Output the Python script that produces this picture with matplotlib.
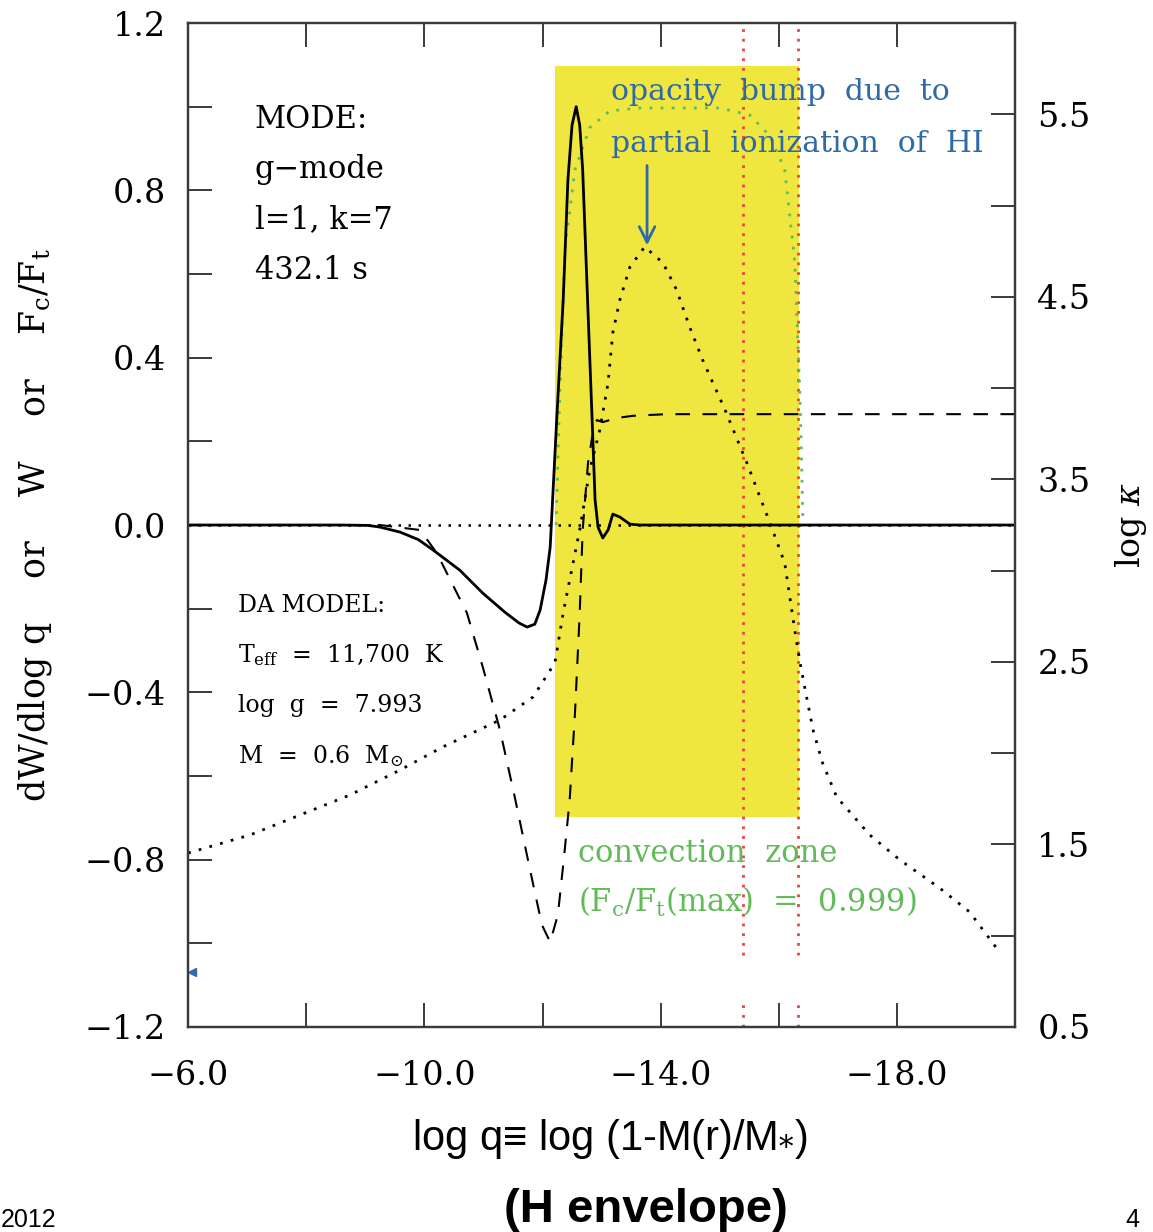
import matplotlib.pyplot as plt
from matplotlib.patches import Rectangle

plt.rcParams['font.family'] = ['DejaVu Serif']
plt.rcParams['mathtext.fontset'] = 'dejavuserif'

# Work integrand dW/dlog q (solid)
dw_x = [-6.0, -8.57, -9.05, -9.25, -9.59, -9.90, -10.15, -10.60, -10.99, -11.36,
        -11.60, -11.74, -11.87, -11.96, -12.06, -12.13, -12.24, -12.35, -12.43,
        -12.50, -12.57, -12.63, -12.68, -12.75, -12.84, -12.89, -12.94, -13.02,
        -13.11, -13.19, -13.31, -13.48, -13.65, -20.0]
dw_y = [0.0, 0.0, -0.001, -0.005, -0.017, -0.035, -0.06, -0.108, -0.163, -0.208,
        -0.234, -0.244, -0.237, -0.203, -0.131, -0.053, 0.251, 0.538, 0.825,
        0.956, 1.0, 0.956, 0.849, 0.586, 0.251, 0.06, -0.005, -0.031,
        -0.012, 0.026, 0.019, 0.002, 0.0, 0.0]

# Running work integral W (dashed)
w_x = [-6.0, -9.25, -9.93, -10.21, -10.72, -10.99, -11.28, -11.53, -11.79, -11.99,
       -12.13, -12.26, -12.36, -12.46, -12.55, -12.63, -12.68, -12.77, -12.84,
       -12.92, -13.02, -13.26, -13.53, -14.10, -20.0]
w_y = [0.0, 0.0, -0.012, -0.067, -0.21, -0.34, -0.49, -0.65, -0.825, -0.956,
       -0.997, -0.932, -0.80, -0.657, -0.449, -0.21, -0.012, 0.148, 0.21,
       0.251, 0.246, 0.256, 0.261, 0.265, 0.265]

# Convective flux fraction Fc/Ft (green dotted)
fc_x = [-12.23, -12.29, -12.38, -12.55, -12.80, -13.14, -13.65, -15.0, -15.51,
        -15.85, -16.10, -16.27, -16.36, -16.41]
fc_y = [0.0, 0.30, 0.66, 0.85, 0.95, 0.99, 0.997, 0.997, 0.98,
        0.93, 0.85, 0.63, 0.30, 0.0]

# Rosseland opacity log kappa (black dotted, right axis)
kap_x = [-6.0, -7.05, -7.90, -8.74, -9.59, -10.31, -11.28, -11.84, -12.21, -12.35,
         -12.46, -12.63, -12.80, -12.97, -13.11, -13.19, -13.31, -13.48, -13.73,
         -14.04, -14.27, -14.49, -14.71, -15.09, -15.46, -15.68, -15.85, -16.10,
         -16.27, -16.36, -16.47, -16.58, -16.74, -16.98, -17.54, -18.05, -18.72,
         -19.23, -19.71]
kap_y = [1.453, 1.552, 1.662, 1.771, 1.908, 2.034, 2.182, 2.308, 2.495, 2.768,
         2.949, 3.223, 3.552, 3.771, 4.029, 4.303, 4.484, 4.664, 4.774,
         4.686, 4.538, 4.336, 4.155, 3.881, 3.590, 3.404, 3.262, 3.042,
         2.675, 2.495, 2.308, 2.127, 1.947, 1.760, 1.552, 1.415, 1.262,
         1.130, 0.922]

# Convection zone region and its boundaries
cz_x = (-12.21, -16.35)
cz_y = (-0.698, 1.097)
bound_x = [-15.40, -16.33]

x_major = [-6.0, -10.0, -14.0, -18.0]
x_minor = [-8.0, -12.0, -16.0, -20.0]
y_major = [-1.2, -0.8, -0.4, 0.0, 0.4, 0.8, 1.2]
y_minor = [-1.0, -0.6, -0.2, 0.2, 0.6, 1.0]
k_major = [0.5, 1.5, 2.5, 3.5, 4.5, 5.5]
k_minor = [1.0, 2.0, 3.0, 4.0, 5.0]


def fmt(v):
    return f'{v:.1f}'.replace('-', '\u2212')


yellow = '#efe740'
blue = '#2e6aa8'
green = '#62bb58'
red = '#e8453c'
spine_col = '#3a3a3a'

fig = plt.figure(figsize=(11.53, 12.32), dpi=100)
ax = fig.add_axes([0.1631, 0.1664, 0.7173, 0.8149])
ax.set_xlim(-6, -20)
ax.set_ylim(-1.2, 1.2)

ax.add_patch(Rectangle((cz_x[0], cz_y[0]), cz_x[1] - cz_x[0], cz_y[1] - cz_y[0],
                       facecolor=yellow, edgecolor='none', zorder=0.5))

for bx in bound_x:
    ax.vlines(bx, -1.028, 1.2, colors=red, linestyles=(0, (1, 2.5)), lw=2, zorder=1)
    ax.vlines(bx, -1.2, -1.136, colors=red, linestyles=(0, (1, 2.5)), lw=2, zorder=1)

ax.axhline(0, color='black', ls=(0, (1, 3)), lw=1.8, zorder=1.5)
ax.plot(fc_x, fc_y, color=green, ls=(0, (1, 3)), lw=2, zorder=1.6)
ax.plot(w_x, w_y, color='black', ls=(0, (7, 6)), lw=1.5, zorder=2)
ax.plot(dw_x, dw_y, color='black', lw=2, zorder=3, solid_joinstyle='round')

# leftover marker near the left spine
ax.plot([-6.06], [-1.069], marker='<', color=blue, ms=6, clip_on=False)

ax.set_xticks(x_major, labels=[fmt(v) for v in x_major])
ax.set_xticks(x_minor, minor=True)
ax.set_yticks(y_major, labels=[fmt(v) for v in y_major])
ax.set_yticks(y_minor, minor=True)
ax.tick_params(which='both', direction='in', length=17, width=1.4, color=spine_col,
               top=True, right=False, labelsize=24)
ax.tick_params(axis='x', pad=24)
ax.tick_params(axis='y', pad=16)
for s in ax.spines.values():
    s.set_color(spine_col)
    s.set_linewidth(1.6)

ax.set_ylabel(r'dW/dlog q    or    W    or    F$_{\rm c}$/F$_{\rm t}$',
              fontsize=25, labelpad=22)

ax2 = ax.twinx()
ax2.set_ylim(0.5, 6.0)
ax2.plot(kap_x, kap_y, color='black', ls=(0, (1, 3)), lw=2, zorder=2)
ax2.set_yticks(k_major, labels=[fmt(v) for v in k_major])
ax2.set_yticks(k_minor, minor=True)
ax2.tick_params(which='both', direction='in', length=17, width=1.4, color=spine_col,
                labelsize=24, pad=16)
for s in ax2.spines.values():
    s.set_color(spine_col)
    s.set_linewidth(1.6)
ax2.set_ylabel(r'log $\kappa$', fontsize=24, rotation=90, labelpad=16)

# mode and model annotations
for i, line in enumerate(['MODE:', 'g\u2212mode', 'l=1, k=7', '432.1 s']):
    ax.text(-7.13, 0.949 - 0.12 * i, line, fontsize=22, va='baseline', ha='left')

da_lines = ['DA MODEL:', r'T$_{\rm eff}$  =  11,700  K', 'log  g  =  7.993',
            r'M  =  0.6  M$_{\odot}$']
for i, line in enumerate(da_lines):
    ax.text(-6.85, -0.208 - 0.12 * i, line, fontsize=17, va='baseline', ha='left')

ax.text(-13.16, 1.016, 'opacity  bump  due  to', fontsize=21.5, color=blue,
        va='baseline', ha='left', zorder=4)
ax.text(-13.16, 0.892, 'partial  ionization  of  HI', fontsize=21.5, color=blue,
        va='baseline', ha='left', zorder=4)
ax.annotate('', xy=(-13.77, 0.662), xytext=(-13.77, 0.866),
            arrowprops=dict(arrowstyle='->', color=blue, lw=2, mutation_scale=28))

ax.text(-12.60, -0.806, 'convection  zone', fontsize=22, color=green,
        va='baseline', ha='left')
ax.text(-12.60, -0.925, r'(F$_{\rm c}$/F$_{\rm t}$(max)  =  0.999)', fontsize=22,
        color=green, va='baseline', ha='left')

sans = ['Liberation Sans', 'DejaVu Sans']
fig.text(0.529, 1 - 1150 / 1232, r'log q≡ log (1-M(r)/M$_{*}$)', fontsize=30,
         family=sans, ha='center', va='baseline')
fig.text(0.560, 1 - 1222 / 1232, '(H envelope)', fontsize=34, family=sans,
         weight='bold', ha='center', va='baseline')
fig.text(0.001, 0.004, '2012', fontsize=18, family=sans, ha='left', va='baseline')
fig.text(0.976, 0.004, '4', fontsize=18, family=sans, ha='left', va='baseline')

fig.savefig('out.png', dpi=100)
